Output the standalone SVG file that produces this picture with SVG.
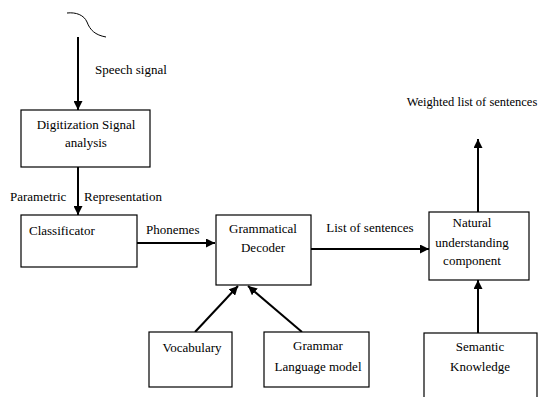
<svg xmlns="http://www.w3.org/2000/svg" width="542" height="397" viewBox="0 0 542 397">
<style>
.box{fill:#fff;stroke:#000;stroke-width:1.2}
.c{text-anchor:middle}
.ln{stroke:#000;stroke-width:2;fill:none}
</style>
<defs>
<marker id="ah" viewBox="0 0 10 10" refX="10" refY="5" markerWidth="4.5" markerHeight="4.5" orient="auto" markerUnits="strokeWidth">
<path d="M0,0 L10,5 L0,10 z" fill="#000"/>
</marker>
</defs>
<rect width="542" height="397" fill="#fff"/>
<g id="connectors">
<path d="M67,13 C76,12 84,15 87,22 C90,30 95,35 106,37" stroke="#000" stroke-width="1" fill="none"/>
<line class="ln" x1="78" y1="37" x2="78" y2="110" marker-end="url(#ah)"/>
<line class="ln" x1="78" y1="167" x2="78" y2="215" marker-end="url(#ah)"/>
<line class="ln" x1="137" y1="243" x2="215" y2="243" marker-end="url(#ah)"/>
<line class="ln" x1="311" y1="249" x2="429" y2="249" marker-end="url(#ah)"/>
<line class="ln" x1="478" y1="212" x2="478" y2="139" marker-end="url(#ah)"/>
<line class="ln" x1="478" y1="333" x2="478" y2="280" marker-end="url(#ah)"/>
<line class="ln" x1="195" y1="332" x2="238" y2="286" marker-end="url(#ah)"/>
<line class="ln" x1="302" y1="332" x2="248" y2="286" marker-end="url(#ah)"/>
<text x="95" y="74" font-family="Liberation Serif, serif" font-size="13">Speech signal</text>
<text x="10" y="201" font-family="Liberation Serif, serif" font-size="13">Parametric</text>
<text x="84" y="201" font-family="Liberation Serif, serif" font-size="13">Representation</text>
<text x="146" y="234" font-family="Liberation Serif, serif" font-size="13">Phonemes</text>
<text class="c" x="370" y="232" font-family="Liberation Serif, serif" font-size="13">List of sentences</text>
<text class="c" x="472" y="106" font-family="Liberation Serif, serif" font-size="12.5">Weighted list of sentences</text>
</g>
<g id="digitization">
<rect class="box" x="21" y="110" width="129" height="57"/>
<text class="c" x="86" y="129" font-family="Liberation Serif, serif" font-size="13">Digitization Signal</text>
<text class="c" x="86" y="147" font-family="Liberation Serif, serif" font-size="13">analysis</text>
</g>
<g id="classificator">
<rect class="box" x="21" y="215" width="116" height="52"/>
<text x="29" y="235" font-family="Liberation Serif, serif" font-size="13">Classificator</text>
</g>
<g id="decoder">
<rect class="box" x="216" y="215" width="95" height="70"/>
<text class="c" x="263" y="233" font-family="Liberation Serif, serif" font-size="13">Grammatical</text>
<text class="c" x="263" y="252" font-family="Liberation Serif, serif" font-size="13">Decoder</text>
</g>
<g id="natural">
<rect class="box" x="429" y="212" width="100" height="68"/>
<text class="c" x="472" y="227" font-family="Liberation Serif, serif" font-size="13">Natural</text>
<text class="c" x="472" y="247" font-family="Liberation Serif, serif" font-size="13">understanding</text>
<text class="c" x="472" y="265" font-family="Liberation Serif, serif" font-size="13">component</text>
</g>
<g id="vocabulary">
<rect class="box" x="149" y="332" width="83" height="55"/>
<text class="c" x="192" y="352" font-family="Liberation Serif, serif" font-size="13">Vocabulary</text>
</g>
<g id="grammar">
<rect class="box" x="264" y="332" width="105" height="55"/>
<text class="c" x="318" y="350" font-family="Liberation Serif, serif" font-size="13">Grammar</text>
<text class="c" x="318" y="371" font-family="Liberation Serif, serif" font-size="13">Language model</text>
</g>
<g id="semantic">
<rect class="box" x="424" y="333" width="113" height="70"/>
<text class="c" x="480" y="351" font-family="Liberation Serif, serif" font-size="13">Semantic</text>
<text class="c" x="480" y="371" font-family="Liberation Serif, serif" font-size="13">Knowledge</text>
</g>
</svg>
